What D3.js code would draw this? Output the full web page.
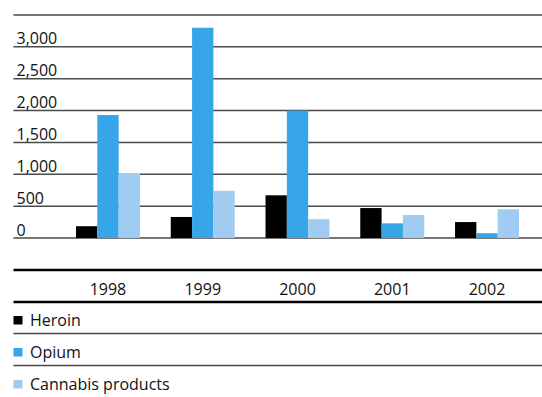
<!DOCTYPE html>
<html>
<head>
<meta charset="utf-8">
<script src="https://cdn.jsdelivr.net/npm/d3@7"></script>
<style>
  html, body { margin: 0; padding: 0; background: #fff; }
  svg text { font-family: "Open Sans", "Noto Sans", sans-serif; fill: #111; }
</style>
</head>
<body>
<svg id="chart" width="542" height="397"></svg>
<script>
// Seizures by year and drug type
const years = ["1998", "1999", "2000", "2001", "2002"];
const seriesNames = ["Heroin", "Opium", "Cannabis products"];
const heroin = [185, 330, 670, 470, 250];
const opium = [1930, 3300, 2000, 230, 75];
const cannabis = [1020, 740, 295, 360, 450];
const seriesColors = ["#000000", "#36A6E8", "#A0CCF2"];
const yTickValues = [0, 500, 1000, 1500, 2000, 2500, 3000];
const yGridValues = [0, 500, 1000, 1500, 2000, 2500, 3000, 3500];

const seriesValues = [heroin, opium, cannabis];
const rows = years.map((yr, i) => ({
  year: yr,
  values: seriesNames.map((name, s) => ({ name, value: seriesValues[s][i], color: seriesColors[s] }))
}));

const svg = d3.select("#chart");
const lineLeft = 13.5, lineRight = 542;

const y = d3.scaleLinear().domain([0, 3500]).range([238, 15]);
const x0 = d3.scaleBand().domain(years).range([60.6, 534.4]).paddingInner(0.325).paddingOuter(0.1625);
const x1 = d3.scaleBand().domain(seriesNames).range([0, x0.bandwidth()]);

// horizontal rules
svg.append("g").selectAll("line").data(yGridValues).join("line")
  .attr("x1", lineLeft).attr("x2", lineRight)
  .attr("y1", d => y(d)).attr("y2", d => y(d))
  .attr("stroke", "#4a4a4a").attr("stroke-width", 1.5);

// value labels sit just above their rule
svg.append("g").selectAll("text").data(yTickValues).join("text")
  .attr("x", 16.5).attr("y", d => y(d) - 2.5)
  .attr("font-size", 16)
  .text(d3.format(","));

// bars
const groups = svg.append("g").selectAll("g").data(rows).join("g")
  .attr("transform", d => `translate(${x0(d.year)},0)`);
groups.selectAll("rect").data(d => d.values).join("rect")
  .attr("x", d => x1(d.name)).attr("width", x1.bandwidth())
  .attr("y", d => y(d.value)).attr("height", d => y(0) - y(d.value))
  .attr("fill", d => d.color);

// year band with heavy rules above and below
[270, 302].forEach(yy => {
  svg.append("line").attr("x1", lineLeft).attr("x2", lineRight)
    .attr("y1", yy).attr("y2", yy).attr("stroke", "#000").attr("stroke-width", 2.5);
});
svg.append("g").selectAll("text").data(years).join("text")
  .attr("x", d => x0(d) + x0.bandwidth() / 2).attr("y", 295)
  .attr("text-anchor", "middle").attr("font-size", 16)
  .text(d => d);

// legend
const legendY = d3.scalePoint().domain(seriesNames).range([326, 390]);
const legend = svg.append("g").selectAll("g").data(seriesNames).join("g");
legend.append("rect")
  .attr("x", 13.5).attr("y", d => legendY(d) - 10).attr("width", 9).attr("height", 8.5)
  .attr("fill", (d, i) => seriesColors[i]);
legend.append("text")
  .attr("x", 30).attr("y", d => legendY(d)).attr("font-size", 16)
  .text(d => d);
svg.append("g").selectAll("line").data(seriesNames.slice(0, 2)).join("line")
  .attr("x1", lineLeft).attr("x2", lineRight)
  .attr("y1", d => legendY(d) + 7.5).attr("y2", d => legendY(d) + 7.5)
  .attr("stroke", "#4a4a4a").attr("stroke-width", 1.5);
</script>
</body>
</html>
